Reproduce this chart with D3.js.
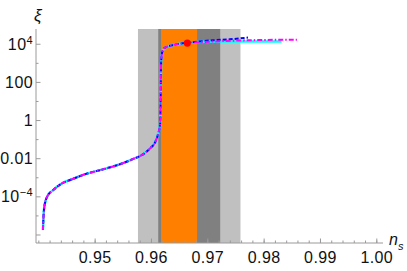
<!DOCTYPE html>
<html>
<head>
<meta charset="utf-8">
<script src="https://cdn.jsdelivr.net/npm/d3@7"></script>
<style>
  body { margin: 0; background: #fff; }
  svg { display: block; font-family: "Liberation Sans", Arial, sans-serif; }
  .tick-label { font-size: 16px; fill: #111; letter-spacing: 0.4px; }
</style>
</head>
<body>
<div id="chart"></div>
<script>
// shared part of the three curves (n_s, xi)
var nsCommon = [0.94073, 0.94083, 0.94101, 0.94161, 0.94250, 0.94427, 0.94544, 0.94840,
                0.95137, 0.95431, 0.95668, 0.95874, 0.95975, 0.96064, 0.96122, 0.96152,
                0.96165, 0.96170, 0.96188, 0.96241, 0.96360, 0.96507, 0.96654];
var xiCommon = [1.86e-6, 8.7e-6, 3.5e-5, 1.2e-4, 2.2e-4, 5.4e-4, 7.4e-4, 1.6e-3,
                2.75e-3, 5.0e-3, 9.5e-3, 0.019, 0.035, 0.072, 0.22, 0.59,
                34, 870, 3550, 6600, 8700, 10700, 12000];

// plateau tails
var nsMagenta = [0.96862, 0.97571, 0.98582];
var xiMagenta = [12900, 15800, 17400];
var nsBlue = [0.97092, 0.97394, 0.97713];
var xiBlue = [16200, 18200, 22400];
var nsCyan = [0.97092, 0.98310];
var xiCyan = [13800, 13800];

// bands (n_s ranges)
var bandLight = [0.9576, 0.9758];
var bandDark = [0.9612, 0.9722];
var bandOrange = [0.9617, 0.9681];

// marked point
var dotNs = 0.96636, dotXi = 11500;

var xTicks = [0.95, 0.96, 0.97, 0.98, 0.99, 1.00];
var yTicks = [1e4, 100, 1, 0.01, 1e-4];
var yTickLabels = ["10^4", "100", "1", "0.01", "10^-4"];

var W = 407, H = 271;
var svg = d3.select("#chart").append("svg").attr("width", W).attr("height", H);

var x = d3.scaleLinear().domain([0.9395, 1.0011]).range([36, 383]);
var y = d3.scaleLog().domain([Math.pow(10, -6.42), Math.pow(10, 4.8)]).range([243, 29]);

var plotTop = 29, plotBottom = 243;

// bands
function band(r, col) {
  svg.append("rect")
    .attr("x", x(r[0])).attr("y", plotTop)
    .attr("width", x(r[1]) - x(r[0])).attr("height", plotBottom - plotTop)
    .attr("fill", col);
}
band(bandLight, "#c0c0c0");
band(bandDark, "#808080");
band(bandOrange, "#ff8000");

// axes
var axisCol = "#9a9a9a";
svg.append("line").attr("x1", 36).attr("x2", 383).attr("y1", plotBottom).attr("y2", plotBottom)
  .attr("stroke", axisCol).attr("stroke-width", 1);
svg.append("line").attr("x1", 36).attr("x2", 36).attr("y1", plotTop).attr("y2", plotBottom)
  .attr("stroke", axisCol).attr("stroke-width", 1);

// x ticks: major every 0.01, minor every 0.002
var minorX = d3.range(0.940, 1.0005, 0.002);
svg.selectAll(".xminor").data(minorX).enter().append("line")
  .attr("x1", function(d){ return x(d); }).attr("x2", function(d){ return x(d); })
  .attr("y1", plotBottom).attr("y2", plotBottom - 2.5)
  .attr("stroke", axisCol);
svg.selectAll(".xmajor").data(xTicks).enter().append("line")
  .attr("x1", function(d){ return x(d); }).attr("x2", function(d){ return x(d); })
  .attr("y1", plotBottom).attr("y2", plotBottom - 4.5)
  .attr("stroke", axisCol);
svg.selectAll(".xlab").data(xTicks).enter().append("text")
  .attr("class", "tick-label")
  .attr("x", function(d){ return x(d); }).attr("y", 263)
  .attr("text-anchor", "middle")
  .text(function(d){ return d.toFixed(2); });

// y ticks: each decade, odd ones shorter
var decades = d3.range(-6, 5);
svg.selectAll(".ytick").data(decades).enter().append("line")
  .attr("x1", 36).attr("x2", function(d){ return d % 2 === 0 ? 40.5 : 38.5; })
  .attr("y1", function(d){ return y(Math.pow(10, d)); })
  .attr("y2", function(d){ return y(Math.pow(10, d)); })
  .attr("stroke", axisCol);

yTicks.forEach(function(v, i) {
  var lab = yTickLabels[i];
  var t = svg.append("text").attr("class", "tick-label")
    .attr("x", 33).attr("y", y(v) + 5.5).attr("text-anchor", "end");
  if (lab.indexOf("^") > -1) {
    var parts = lab.split("^");
    t.append("tspan").text(parts[0]);
    t.append("tspan").attr("dy", -6).attr("font-size", "11px")
      .text(parts[1].replace("-", "\u2212"));
  } else {
    t.text(lab);
  }
});

// axis labels
svg.append("text").attr("x", 34).attr("y", 21)
  .attr("font-size", "17px").attr("font-style", "italic").attr("fill", "#111")
  .text("\u03be");
var nsLab = svg.append("text").attr("x", 389).attr("y", 245)
  .attr("font-size", "16px").attr("font-style", "italic").attr("fill", "#111");
nsLab.append("tspan").text("n");
nsLab.append("tspan").attr("dy", 5).attr("font-size", "11px").text("s");

// curves
function pts(nsTail, xiTail) {
  var a = nsCommon.map(function(n, i){ return [n, xiCommon[i]]; });
  return a.concat(nsTail.map(function(n, i){ return [n, xiTail[i]]; }));
}
var line = d3.line()
  .x(function(d){ return x(d[0]); })
  .y(function(d){ return y(d[1]); })
  .curve(d3.curveMonotoneX);

svg.append("path").attr("d", line(pts(nsCyan, xiCyan)))
  .attr("fill", "none").attr("stroke", "#00ffff").attr("stroke-width", 2.5);
svg.append("path").attr("d", line(pts(nsBlue, xiBlue)))
  .attr("fill", "none").attr("stroke", "#0000ff").attr("stroke-width", 2)
  .attr("stroke-dasharray", "4,2");
svg.append("path").attr("d", line(pts(nsMagenta, xiMagenta)))
  .attr("fill", "none").attr("stroke", "#ff00ff").attr("stroke-width", 2)
  .attr("stroke-dasharray", "5,2,1.5,2");

svg.append("circle").attr("cx", x(dotNs)).attr("cy", y(dotXi)).attr("r", 3.6)
  .attr("fill", "#ff0000");
</script>
</body>
</html>
